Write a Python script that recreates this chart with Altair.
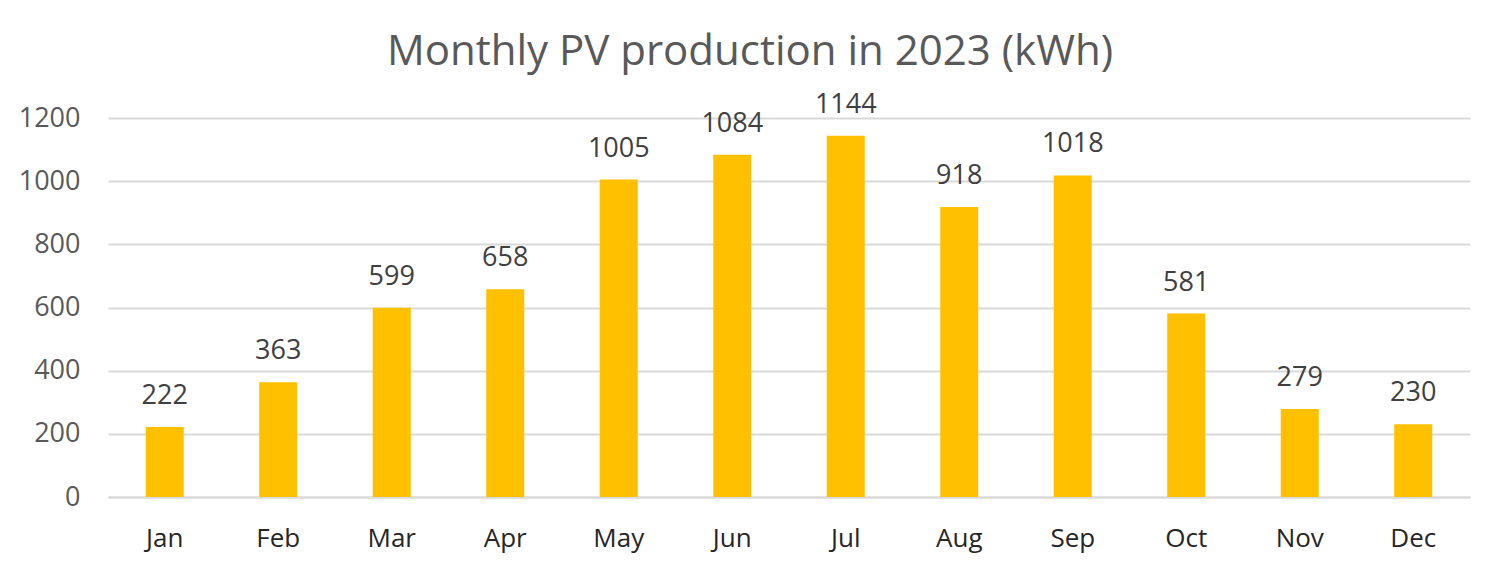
import altair as alt
import pandas as pd

months = ["Jan", "Feb", "Mar", "Apr", "May", "Jun", "Jul", "Aug", "Sep", "Oct", "Nov", "Dec"]
production = [222, 363, 599, 658, 1005, 1084, 1144, 918, 1018, 581, 279, 230]

df = pd.DataFrame({"month": months, "kwh": production})

FONT = "Open Sans"

x = alt.X("month:N", sort=months, title=None,
          scale=alt.Scale(paddingInner=0.665, paddingOuter=0.3325),
          axis=alt.Axis(labelAngle=0, labelFontSize=26, labelColor="#262626", labelFont=FONT,
                        labelPadding=28, ticks=False, domain=True, domainColor="#d9d9d9",
                        domainWidth=2, grid=False))
y = alt.Y("kwh:Q", title=None,
          scale=alt.Scale(domain=[0, 1200], nice=False),
          axis=alt.Axis(values=[0, 200, 400, 600, 800, 1000, 1200], format="d", labelFontSize=27,
                        labelColor="#595959", labelFont=FONT, labelPadding=28, ticks=False,
                        domain=False, gridColor="#d9d9d9", gridWidth=2))

bars = alt.Chart(df).mark_bar(color="#FFC000").encode(x=x, y=y)
labels = alt.Chart(df).mark_text(baseline="alphabetic", dy=-23, fontSize=27, color="#404040",
                                 font=FONT).encode(x=x, y=y, text="kwh:Q")

chart = (bars + labels).properties(
    width=1362, height=379,
    autosize=alt.AutoSizeParams(type="none"),
    padding={"left": 100, "top": 110, "right": 22, "bottom": 64},
    title=alt.TitleParams("Monthly PV production in 2023 (kWh)", fontSize=42, color="#595959",
                          font=FONT, fontWeight="normal", anchor="middle", dx=-39, offset=17),
).configure_view(stroke=None)

chart.save("out.html", embed_options={"renderer": "svg", "actions": False})
